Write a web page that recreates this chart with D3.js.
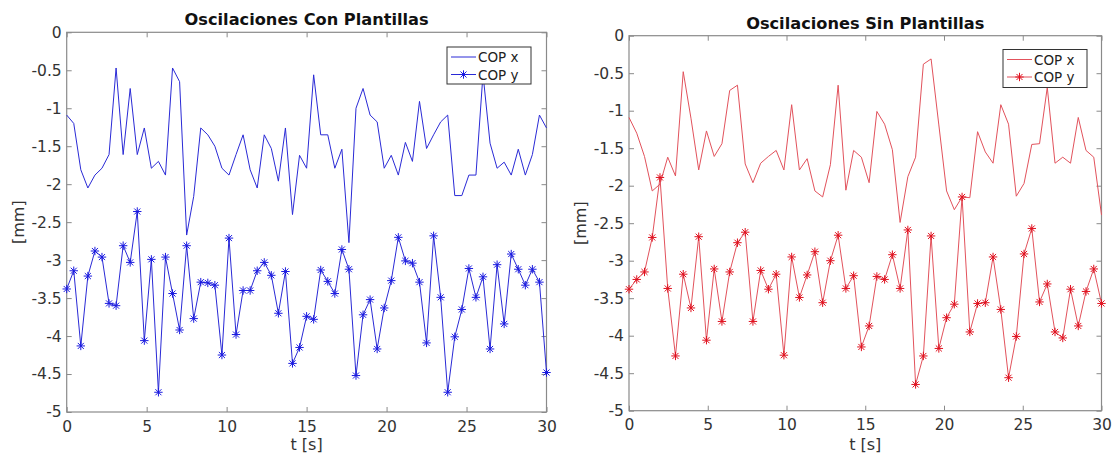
<!DOCTYPE html>
<html>
<head>
<meta charset="utf-8">
<script src="https://cdn.jsdelivr.net/npm/d3@7"></script>
<style>
  body { margin: 0; background: #fff; }
  svg { display: block; font-family: "DejaVu Sans", sans-serif; }
</style>
</head>
<body>
<div id="chart"></div>
<script>
// Values (mm), samples evenly spaced over 0..30 s
let conCopX = [-1.09, -1.20, -1.81, -2.05, -1.88, -1.79, -1.61, -0.47, -1.61, -0.74,
  -1.61, -1.26, -1.79, -1.70, -1.88, -0.47, -0.65, -2.67, -2.16, -1.26,
  -1.35, -1.50, -1.79, -1.88, -1.61, -1.35, -1.81, -2.05, -1.35, -1.53,
  -1.96, -1.26, -2.40, -1.62, -1.79, -0.56, -1.35, -1.35, -1.79, -1.54,
  -2.77, -1.00, -0.74, -1.09, -1.18, -1.79, -1.62, -1.88, -1.45, -1.70,
  -0.91, -1.53, -1.35, -1.18, -1.09, -2.15, -2.15, -1.88, -1.88, -0.55,
  -1.46, -1.79, -1.71, -1.88, -1.54, -1.88, -1.61, -1.09, -1.26]
let conCopY = [-3.38, -3.14, -4.13, -3.21, -2.88, -2.96, -3.57, -3.60, -2.81, -3.03,
  -2.36, -4.06, -2.99, -4.74, -2.96, -3.44, -3.92, -2.81, -3.77, -3.29,
  -3.30, -3.33, -4.25, -2.71, -3.98, -3.40, -3.40, -3.14, -3.03, -3.20,
  -3.70, -3.15, -4.36, -4.15, -3.74, -3.78, -3.13, -3.28, -3.44, -2.86,
  -3.12, -4.52, -3.72, -3.52, -4.17, -3.63, -3.27, -2.70, -3.01, -3.04,
  -3.29, -4.09, -2.68, -3.49, -4.74, -4.01, -3.65, -3.11, -3.49, -3.22,
  -4.17, -3.06, -3.84, -2.92, -3.12, -3.33, -3.12, -3.29, -4.48]
let sinCopX = [-1.09, -1.30, -1.61, -2.07, -1.98, -1.62, -1.87, -0.48, -1.10, -1.79,
  -1.27, -1.61, -1.44, -0.73, -0.66, -1.71, -1.96, -1.70, -1.61, -1.53,
  -1.79, -0.92, -1.79, -1.64, -2.07, -2.15, -1.72, -0.66, -2.06, -1.53,
  -1.62, -1.96, -1.01, -1.18, -1.52, -2.49, -1.88, -1.62, -0.38, -0.31,
  -1.19, -2.07, -2.32, -2.15, -2.16, -1.28, -1.55, -1.70, -0.92, -1.18,
  -2.14, -1.97, -1.45, -1.44, -0.69, -1.70, -1.62, -1.70, -1.09, -1.53,
  -1.62, -2.39]
let sinCopY = [-3.38, -3.25, -3.15, -2.69, -1.89, -3.37, -4.27, -3.18, -3.63, -2.68,
  -4.06, -3.11, -3.81, -3.15, -2.76, -2.62, -3.81, -3.13, -3.38, -3.18,
  -4.26, -2.95, -3.49, -3.19, -2.88, -3.56, -3.00, -2.66, -3.37, -3.20,
  -4.15, -3.87, -3.21, -3.25, -2.92, -3.37, -2.59, -4.65, -4.27, -2.67,
  -4.17, -3.76, -3.58, -2.15, -3.95, -3.57, -3.56, -2.95, -3.65, -4.56,
  -4.01, -2.91, -2.57, -3.55, -3.31, -3.95, -4.03, -3.38, -3.87, -3.41,
  -3.11, -3.57]

let xTicks = [0, 5, 10, 15, 20, 25, 30]
let yTicks = [0, -0.5, -1, -1.5, -2, -2.5, -3, -3.5, -4, -4.5, -5]
let seriesNames = ["COP x", "COP y"]
let duration = 30

let width = 1112
let height = 455

let svg = d3.select("#chart").append("svg")
    .attr("width", width)
    .attr("height", height)

let panels = [
  { title: "Oscilaciones Con Plantillas", cx: conCopX, cy: conCopY, color: "#2a2ad6", marker: "#1a1ae0",
    left: 66.7, right: 546.5, top: 32.3, bottom: 412, titleY: 25, legend: [447, 47, 84, 37] },
  { title: "Oscilaciones Sin Plantillas", cx: sinCopX, cy: sinCopY, color: "#e2525c", marker: "#e0101e",
    left: 629, right: 1101.5, top: 35.7, bottom: 410.7, titleY: 28.5, legend: [1003, 49.5, 84, 38] }
]

panels.forEach(drawPanel)

// asterisk marker like matlab '*'
function asterisk(r) {
  let d = r * 0.72
  return "M" + (-r) + ",0L" + r + ",0M0," + (-r) + "L0," + r +
    "M" + (-d) + "," + (-d) + "L" + d + "," + d + "M" + (-d) + "," + d + "L" + d + "," + (-d)
}

function drawPanel(p) {
  let x = d3.scaleLinear().domain([0, duration]).range([p.left, p.right])
  let y = d3.scaleLinear().domain([-5, 0]).range([p.bottom, p.top])
  let g = svg.append("g")

  let tOf = (d, i, arr) => i * duration / (arr.length - 1)

  let line = (arr) => d3.line()
      .x((d, i) => x(tOf(d, i, arr)))
      .y((d) => y(d))(arr)

  // box
  g.append("rect")
      .attr("x", p.left).attr("y", p.top)
      .attr("width", p.right - p.left).attr("height", p.bottom - p.top)
      .attr("fill", "#fff").attr("stroke", "#8a8a8a").attr("stroke-width", 1.2)

  // axes (ticks point inward, mirrored on top and right)
  let axB = g.append("g").attr("transform", "translate(0," + p.bottom + ")")
      .call(d3.axisBottom(x).tickValues(xTicks).tickSize(-5).tickPadding(8.5))
  let axT = g.append("g").attr("transform", "translate(0," + p.top + ")")
      .call(d3.axisTop(x).tickValues(xTicks).tickSize(-5).tickFormat(""))
  let axL = g.append("g").attr("transform", "translate(" + p.left + ",0)")
      .call(d3.axisLeft(y).tickValues(yTicks).tickSize(-5).tickPadding(5))
  let axR = g.append("g").attr("transform", "translate(" + p.right + ",0)")
      .call(d3.axisRight(y).tickValues(yTicks).tickSize(-5).tickFormat(""))

  ;[axB, axT, axL, axR].forEach((a) => {
    a.select(".domain").remove()
    a.selectAll(".tick line").attr("stroke", "#8a8a8a")
    a.selectAll("text").attr("fill", "#333").style("font-size", "15.5px").attr("font-family", "DejaVu Sans")
  })
  axL.selectAll("text").text((d) => String(d))

  // COP x line
  g.append("path")
      .attr("d", line(p.cx))
      .attr("fill", "none").attr("stroke", p.color).attr("stroke-width", 1)

  // COP y line + markers
  g.append("path")
      .attr("d", line(p.cy))
      .attr("fill", "none").attr("stroke", p.color).attr("stroke-width", 1)

  g.selectAll(".mk").data(p.cy).enter().append("path")
      .attr("class", "mk")
      .attr("transform", (d, i) => "translate(" + x(tOf(d, i, p.cy)) + "," + y(d) + ")")
      .attr("d", asterisk(4.2))
      .attr("stroke", p.marker).attr("stroke-width", 1).attr("fill", "none")

  // title
  g.append("text")
      .attr("x", (p.left + p.right) / 2).attr("y", p.titleY)
      .attr("text-anchor", "middle")
      .style("font-size", "16.2px").style("font-weight", "bold")
      .attr("fill", "#111")
      .text(p.title)

  // axis labels
  g.append("text")
      .attr("x", (p.left + p.right) / 2).attr("y", 450)
      .attr("text-anchor", "middle")
      .style("font-size", "16px").attr("fill", "#333")
      .text("t [s]")
  g.append("text")
      .attr("transform", "translate(" + (p.left - 43) + "," + (p.top + p.bottom) / 2 + ") rotate(-90)")
      .attr("text-anchor", "middle")
      .style("font-size", "16px").attr("fill", "#333")
      .text("[mm]")

  // legend
  let lg = p.legend
  let leg = g.append("g").attr("transform", "translate(" + lg[0] + "," + lg[1] + ")")
  leg.append("rect")
      .attr("width", lg[2]).attr("height", lg[3])
      .attr("fill", "#fff").attr("stroke", "#333").attr("stroke-width", 1)
  seriesNames.forEach((name, i) => {
    let cy = 10 + i * 17.5
    leg.append("line")
        .attr("x1", 4).attr("x2", 29).attr("y1", cy).attr("y2", cy)
        .attr("stroke", p.color).attr("stroke-width", 1)
    if (i == 1) {
      leg.append("path")
          .attr("transform", "translate(16.5," + cy + ")")
          .attr("d", asterisk(4.2))
          .attr("stroke", p.marker).attr("fill", "none")
    }
    leg.append("text")
        .attr("x", 31).attr("y", cy + 5)
        .style("font-size", "13.5px").attr("fill", "#222")
        .text(name)
  })
}
</script>
</body>
</html>
